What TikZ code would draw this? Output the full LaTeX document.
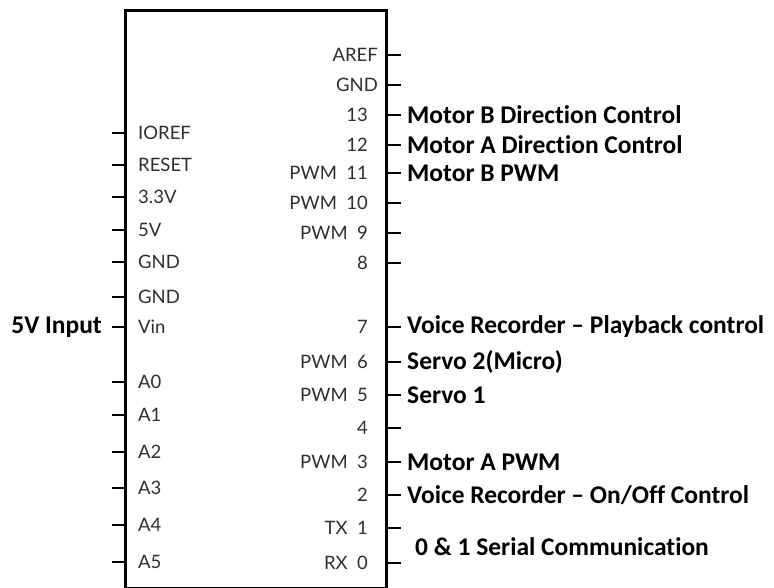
\documentclass[tikz,border=0pt]{standalone}
\usepackage{fontspec}
\setmainfont{Carlito}[Ligatures=NoCommon]
\newfontfamily\pinfont{Lato}
\definecolor{pingray}{HTML}{2E2E2E}

\begin{document}
\begin{tikzpicture}[x=1pt,y=-1pt,
  pin/.style={line width=2pt},
  pinname/.style={font=\pinfont\fontsize{18.5}{18.5}\selectfont, text=pingray, inner sep=0pt},
  use/.style={font=\bfseries\fontsize{25.5}{25.5}\selectfont, anchor=west, inner sep=0pt}]
\useasboundingbox (0,0) rectangle (774,588);

% the board
\node[draw, line width=3pt, minimum width=261pt, minimum height=577pt, anchor=north west, inner sep=0pt] (board) at (124,9.5) {};

% left header pins
\foreach \y/\name [count=\i] in {133/IOREF,165/RESET,197/3.3V,230/5V,262/GND,297/GND,327/Vin,382/A0,415/A1,452/A2,488/A3,525/A4,562/A5}
{
\draw[pin] (board.west |- 0,\y) -- ++(-12,0) coordinate (l\i);
\node[pinname, anchor=west] (ln\i) at (138,\y) {\name};
}

% right header pins
\foreach \y/\x/\num [count=\i] in {55/378/AREF,85/378/GND,115/368/13,145/368/12,173/368/11,203/368/10,233/368/9,263/368/8,327/368/7,362/368/6,395/368/5,428/368/4,462/368/3,495/368/2,528/368/1,563/368/0}
{
\draw[pin] (board.east |- 0,\y) -- ++(13,0) coordinate (r\i);
\node[pinname, anchor=east] (rn\i) at (\x,\y) {\num};
}
\foreach \i/\pre in {5/PWM,6/PWM,7/PWM,10/PWM,11/PWM,13/PWM,15/TX,16/RX}
\node[pinname, anchor=east] (rp\i) at ([xshift=-9pt]rn\i.west) {\pre};

% what is wired where
\node[use, anchor=east] (vin) at ([xshift=-10pt]l7) {5V Input};
\node[use] (mbdir) at ([xshift=6pt]r3) {Motor B Direction Control};
\node[use] (madir) at ([xshift=6pt]r4) {Motor A Direction Control};
\node[use] (mbpwm) at ([xshift=6pt]r5) {Motor B PWM};
\node[use] (play) at ([xshift=6pt]r9) {Voice Recorder – Playback control};
\node[use] (servo2) at ([xshift=6pt]r10) {Servo 2(Micro)};
\node[use] (servo1) at ([xshift=6pt]r11) {Servo 1};
\node[use] (mapwm) at ([xshift=6pt]r13) {Motor A PWM};
\node[use] (onoff) at ([xshift=6pt]r14) {Voice Recorder – On/Off Control};
\node[use] (serial) at (415,547) {0 \& 1 Serial Communication};

\end{tikzpicture}
\end{document}
